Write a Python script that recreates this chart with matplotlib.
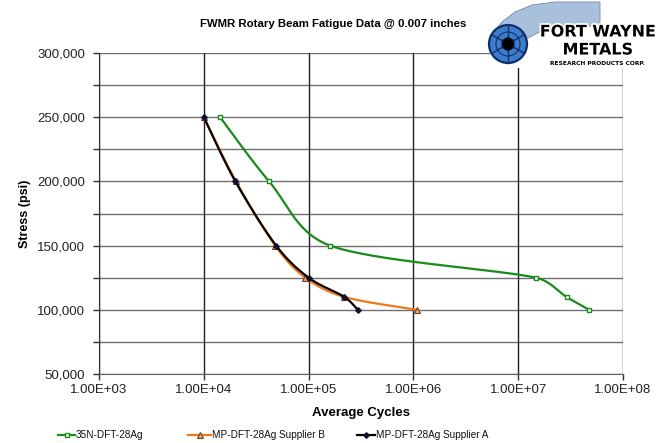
import numpy as np
import matplotlib
matplotlib.use("Agg")
import matplotlib.pyplot as plt
from matplotlib.lines import Line2D
from matplotlib.patches import Circle, Polygon, Rectangle, RegularPolygon
import matplotlib.patheffects as pe

plt.rcParams['font.family'] = ['Liberation Sans', 'DejaVu Sans']

# ---- data ----
title = "FWMR Rotary Beam Fatigue Data @ 0.007 inches"
x_label = "Average Cycles"
y_label = "Stress (psi)"

green_name = "35N-DFT-28Ag"
green_x = [1.43e4, 4.2e4, 1.6e5, 1.48e7, 2.9e7, 4.75e7]
green_y = [250000, 200000, 150000, 125000, 110000, 100000]

orange_name = "MP-DFT-28Ag Supplier B"
orange_x = [1.0e4, 2.03e4, 4.8e4, 9.3e4, 2.2e5, 1.08e6]
orange_y = [250000, 200000, 150000, 125000, 110000, 100000]

black_name = "MP-DFT-28Ag Supplier A"
black_x = [1.0e4, 2.0e4, 4.9e4, 1.0e5, 2.2e5, 2.95e5]
black_y = [250000, 200000, 150000, 125000, 110000, 100000]

x_ticks = [1e3, 1e4, 1e5, 1e6, 1e7, 1e8]
x_tick_labels = ["1.00E+03", "1.00E+04", "1.00E+05", "1.00E+06", "1.00E+07", "1.00E+08"]
y_ticks = [50000, 100000, 150000, 200000, 250000, 300000]
y_tick_labels = ["50,000", "100,000", "150,000", "200,000", "250,000", "300,000"]
y_grid_step = 25000

W, H = 669, 443
fig = plt.figure(figsize=(W / 100, H / 100), dpi=100)
ax = fig.add_axes([99 / W, 1 - 374 / H, (623 - 99) / W, (374 - 53) / H])
ax.set_xscale('log')
ax.set_xlim(1e3, 1e8)
ax.set_ylim(50000, 300000)

# grid
all_y = np.arange(y_ticks[0], y_ticks[-1] + 1, y_grid_step)
for yv in all_y:
    ax.axhline(yv, color='#707070', lw=1.0, zorder=1)
for xv in x_ticks:
    ax.axvline(xv, color='#202020', lw=1.0, zorder=1)

for s in ['top', 'right']:
    ax.spines[s].set_visible(False)
ax.spines['left'].set_color('#303030')
ax.spines['bottom'].set_color('#606060')

ax.set_xticks(x_ticks)
ax.set_xticklabels(x_tick_labels)
ax.xaxis.set_minor_locator(matplotlib.ticker.NullLocator())
ax.set_yticks(all_y)
ax.set_yticklabels([y_tick_labels[y_ticks.index(v)] if v in y_ticks else "" for v in all_y])
ax.tick_params(axis='both', direction='out', length=4, width=1, color='#303030',
               labelsize=9.5, labelcolor='#222222')
ax.tick_params(axis='y', pad=6)
ax.tick_params(axis='x', pad=3)


def smooth(xs, ys, n=40):
    u = np.log10(np.array(xs)) * 104.8
    v = np.array(ys) / 50000.0 * 64
    P = np.column_stack([u, v])
    out = [P[0]]
    m = len(P)
    for i in range(m - 1):
        p0 = P[i - 1] if i > 0 else P[i]
        p1 = P[i]
        p2 = P[i + 1]
        p3 = P[i + 2] if i + 2 < m else P[i + 1]
        seg = np.linalg.norm(p2 - p1)
        d1 = (p2 - p0) / 6.0
        d2 = (p3 - p1) / 6.0
        lim = 0.4 * seg
        if np.linalg.norm(d1) > lim:
            d1 = d1 / np.linalg.norm(d1) * lim
        if np.linalg.norm(d2) > lim:
            d2 = d2 / np.linalg.norm(d2) * lim
        c1 = p1 + d1
        c2 = p2 - d2
        t = np.linspace(0, 1, n)[1:, None]
        b = ((1 - t) ** 3) * p1 + 3 * ((1 - t) ** 2) * t * c1 + 3 * (1 - t) * t ** 2 * c2 + t ** 3 * p2
        out.extend(b)
    out = np.array(out)
    return 10 ** (out[:, 0] / 104.8), out[:, 1] * 50000.0 / 64


g_col = '#1a8a1a'
o_col = '#f07818'
k_col = '#000000'
g_style = dict(marker='s', ms=3.5, mfc='white', mec=g_col, mew=1.0)
o_style = dict(marker='^', ms=5, mfc='#f0a070', mec='#704020', mew=0.8)
k_style = dict(marker='D', ms=2.8, mfc='#101030', mec='#101030')

gx, gy = smooth(green_x, green_y)
ax.plot(gx, gy, color=g_col, lw=1.6, zorder=3)
ax.plot(green_x, green_y, ls='none', zorder=4, **g_style)

ox, oy = smooth(orange_x, orange_y)
ax.plot(ox, oy, color=o_col, lw=1.6, zorder=3)
ax.plot(orange_x, orange_y, ls='none', zorder=4, **o_style)

kx, ky = smooth(black_x, black_y)
ax.plot(kx, ky, color=k_col, lw=1.6, zorder=5)
ax.plot(black_x, black_y, ls='none', zorder=6, **k_style)

ax.set_xlabel(x_label, fontsize=9.5, fontweight='bold', labelpad=8)
ax.set_ylabel(y_label, fontsize=9, fontweight='bold')
ax.yaxis.set_label_coords(-0.13, 0.5)

fig.text(333 / W, 1 - 24 / H, title, fontsize=8.2, fontweight='bold', ha='center', va='center')

# ---- overlay (legend + logo) in pixel coords ----
lax = fig.add_axes([0, 0, 1, 1], zorder=10)
lax.set_xlim(0, W)
lax.set_ylim(H, 0)
lax.axis('off')
lax.patch.set_alpha(0)

leg_y = 435
leg_items = [
    (58, 75, g_col, g_style, green_name),
    (188, 211, o_col, o_style, orange_name),
    (357, 375, k_col, k_style, black_name),
]
for x0, x1, col, sty, name in leg_items:
    lax.add_line(Line2D([x0, x1], [leg_y, leg_y], color=col, lw=1.6))
    lax.add_line(Line2D([(x0 + x1) / 2], [leg_y], ls='none', **sty))
    lax.text(x1 + 1, leg_y, name, fontsize=7.2, ha='left', va='center', color='#111111')

lax.add_patch(Rectangle((490, 0), 179, 68, facecolor='white', edgecolor='none'))
ribbon = Polygon([(492, 34), (502, 22), (515, 12), (532, 5), (555, 2), (600, 2),
                  (600, 26), (565, 26), (545, 29), (528, 38)],
                 closed=True, facecolor='#a9c0dc', edgecolor='#7088a8', lw=0.6)
lax.add_patch(ribbon)
lax.add_patch(Circle((508, 44), 19, facecolor='#3d7ccc', edgecolor='#122e66', lw=1.6))
for ang in np.deg2rad(np.arange(0, 360, 60) + 30):
    lax.plot([508 + 6 * np.cos(ang), 508 + 19 * np.cos(ang)],
             [44 + 6 * np.sin(ang), 44 + 19 * np.sin(ang)], color='#14306a', lw=1.0)
lax.add_patch(Circle((508, 44), 12, facecolor='none', edgecolor='#14306a', lw=0.8))
lax.add_patch(RegularPolygon((508, 44), 6, radius=6.5, facecolor='black', edgecolor='black'))
fx = [pe.withStroke(linewidth=2.5, foreground='white')]
lax.text(598, 32, "FORT WAYNE", fontsize=11.5, fontweight='bold', ha='center', va='center',
         color='black', path_effects=fx, family='DejaVu Sans')
lax.text(598, 50, "METALS", fontsize=11.5, fontweight='bold', ha='center', va='center',
         color='black', path_effects=fx, family='DejaVu Sans')
lax.text(598, 63, "RESEARCH PRODUCTS CORP.", fontsize=4.3, fontweight='bold', ha='center',
         va='center', color='black', family='DejaVu Sans')

fig.savefig("out.png", dpi=100)
